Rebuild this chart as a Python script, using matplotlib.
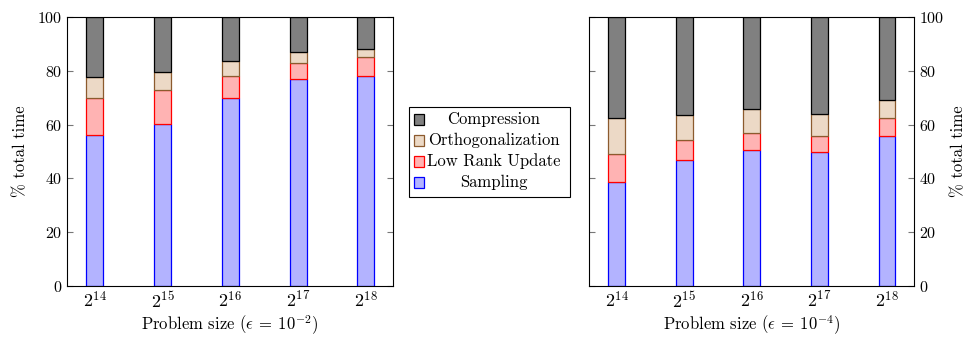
import matplotlib
matplotlib.use("Agg")
import matplotlib.pyplot as plt
import numpy as np
from matplotlib.patches import Rectangle

plt.rcParams["font.family"] = "serif"
plt.rcParams["font.serif"] = ["cmr10", "DejaVu Serif"]
plt.rcParams["mathtext.fontset"] = "cm"
plt.rcParams["axes.unicode_minus"] = False
plt.rcParams["axes.formatter.use_mathtext"] = True

W, H = 967, 339

sizes = ["$2^{14}$", "$2^{15}$", "$2^{16}$", "$2^{17}$", "$2^{18}$"]
phases = ["Compression", "Orthogonalization", "Low Rank Update", "Sampling"]

# percent of total time per phase, eps = 1e-2
sampling_e2 = [56.2, 60.4, 69.8, 77.1, 78.1]
lowrank_e2 = [13.7, 12.4, 8.4, 5.9, 7.0]
ortho_e2 = [7.8, 6.9, 5.5, 4.0, 3.1]
compress_e2 = [22.3, 20.3, 16.3, 13.0, 11.8]

# percent of total time per phase, eps = 1e-4
sampling_e4 = [38.6, 46.7, 50.4, 50.0, 55.9]
lowrank_e4 = [10.3, 7.6, 6.5, 5.7, 6.4]
ortho_e4 = [13.4, 9.4, 8.8, 8.4, 7.0]
compress_e4 = [37.7, 36.3, 34.3, 35.9, 30.7]

fills = {"Compression": "#808080", "Orthogonalization": "#ecd9c6",
         "Low Rank Update": "#ffb3b3", "Sampling": "#b3b3ff"}
edges = {"Compression": "black", "Orthogonalization": "#8c5a2e",
         "Low Rank Update": "red", "Sampling": "blue"}


def draw_panel(ax, series, eps_exp, right=False):
    x = np.arange(len(sizes))
    bottom = np.zeros(len(sizes))
    for name in ["Sampling", "Low Rank Update", "Orthogonalization", "Compression"]:
        vals = np.array(series[name])
        ax.bar(x, vals, width=0.25, bottom=bottom, color=fills[name],
               edgecolor=edges[name], linewidth=0.9)
        bottom += vals
    ax.set_xlim(-0.41, 4.4)
    ax.set_ylim(0, 100)
    ax.set_xticks(x)
    ax.set_xticklabels(sizes, fontsize=13)
    ax.set_yticks(range(0, 101, 20))
    ax.tick_params(axis="y", direction="in", length=4, color="#777777",
                   left=True, right=True, labelsize=11.5,
                   labelleft=not right, labelright=right)
    ax.tick_params(axis="x", length=0, pad=3)
    ax.set_xlabel(r"Problem size ($\epsilon\:=\:10^{-%d}$)" % eps_exp,
                  fontsize=12, labelpad=2)
    if right:
        ax.yaxis.set_label_position("right")
    ax.set_ylabel("% total time", fontsize=12, labelpad=5 if right else 6)
    for sp in ax.spines.values():
        sp.set_linewidth(0.8)


def px(x, y):
    return x / W, 1 - y / H


fig = plt.figure(figsize=(W / 100, H / 100), dpi=100)
ax1 = fig.add_axes([67 / W, 53 / H, 326 / W, 269 / H])
ax2 = fig.add_axes([589 / W, 53 / H, 325 / W, 269 / H])

draw_panel(ax1, {"Sampling": sampling_e2, "Low Rank Update": lowrank_e2,
                 "Orthogonalization": ortho_e2, "Compression": compress_e2}, 2)
draw_panel(ax2, {"Sampling": sampling_e4, "Low Rank Update": lowrank_e4,
                 "Orthogonalization": ortho_e4, "Compression": compress_e4}, 4, right=True)

# legend between the panels: squares on the left, centred labels
x0, y0 = px(409, 197)
x1, y1 = px(570, 107)
fig.add_artist(Rectangle((x0, y0), x1 - x0, y1 - y0, transform=fig.transFigure,
                         facecolor="white", edgecolor="black", linewidth=0.8))
row_y = [119, 140.5, 161.5, 182.5]
for name, ry in zip(phases, row_y):
    sx, sy = px(414, ry + 5.5)
    fig.add_artist(Rectangle((sx, sy), 10 / W, 11 / H, transform=fig.transFigure,
                             facecolor=fills[name], edgecolor=edges[name], linewidth=0.9))
    tx, ty = px(494, ry)
    fig.text(tx, ty, name, ha="center", va="center", fontsize=12)

fig.savefig("out.png", dpi=100)
